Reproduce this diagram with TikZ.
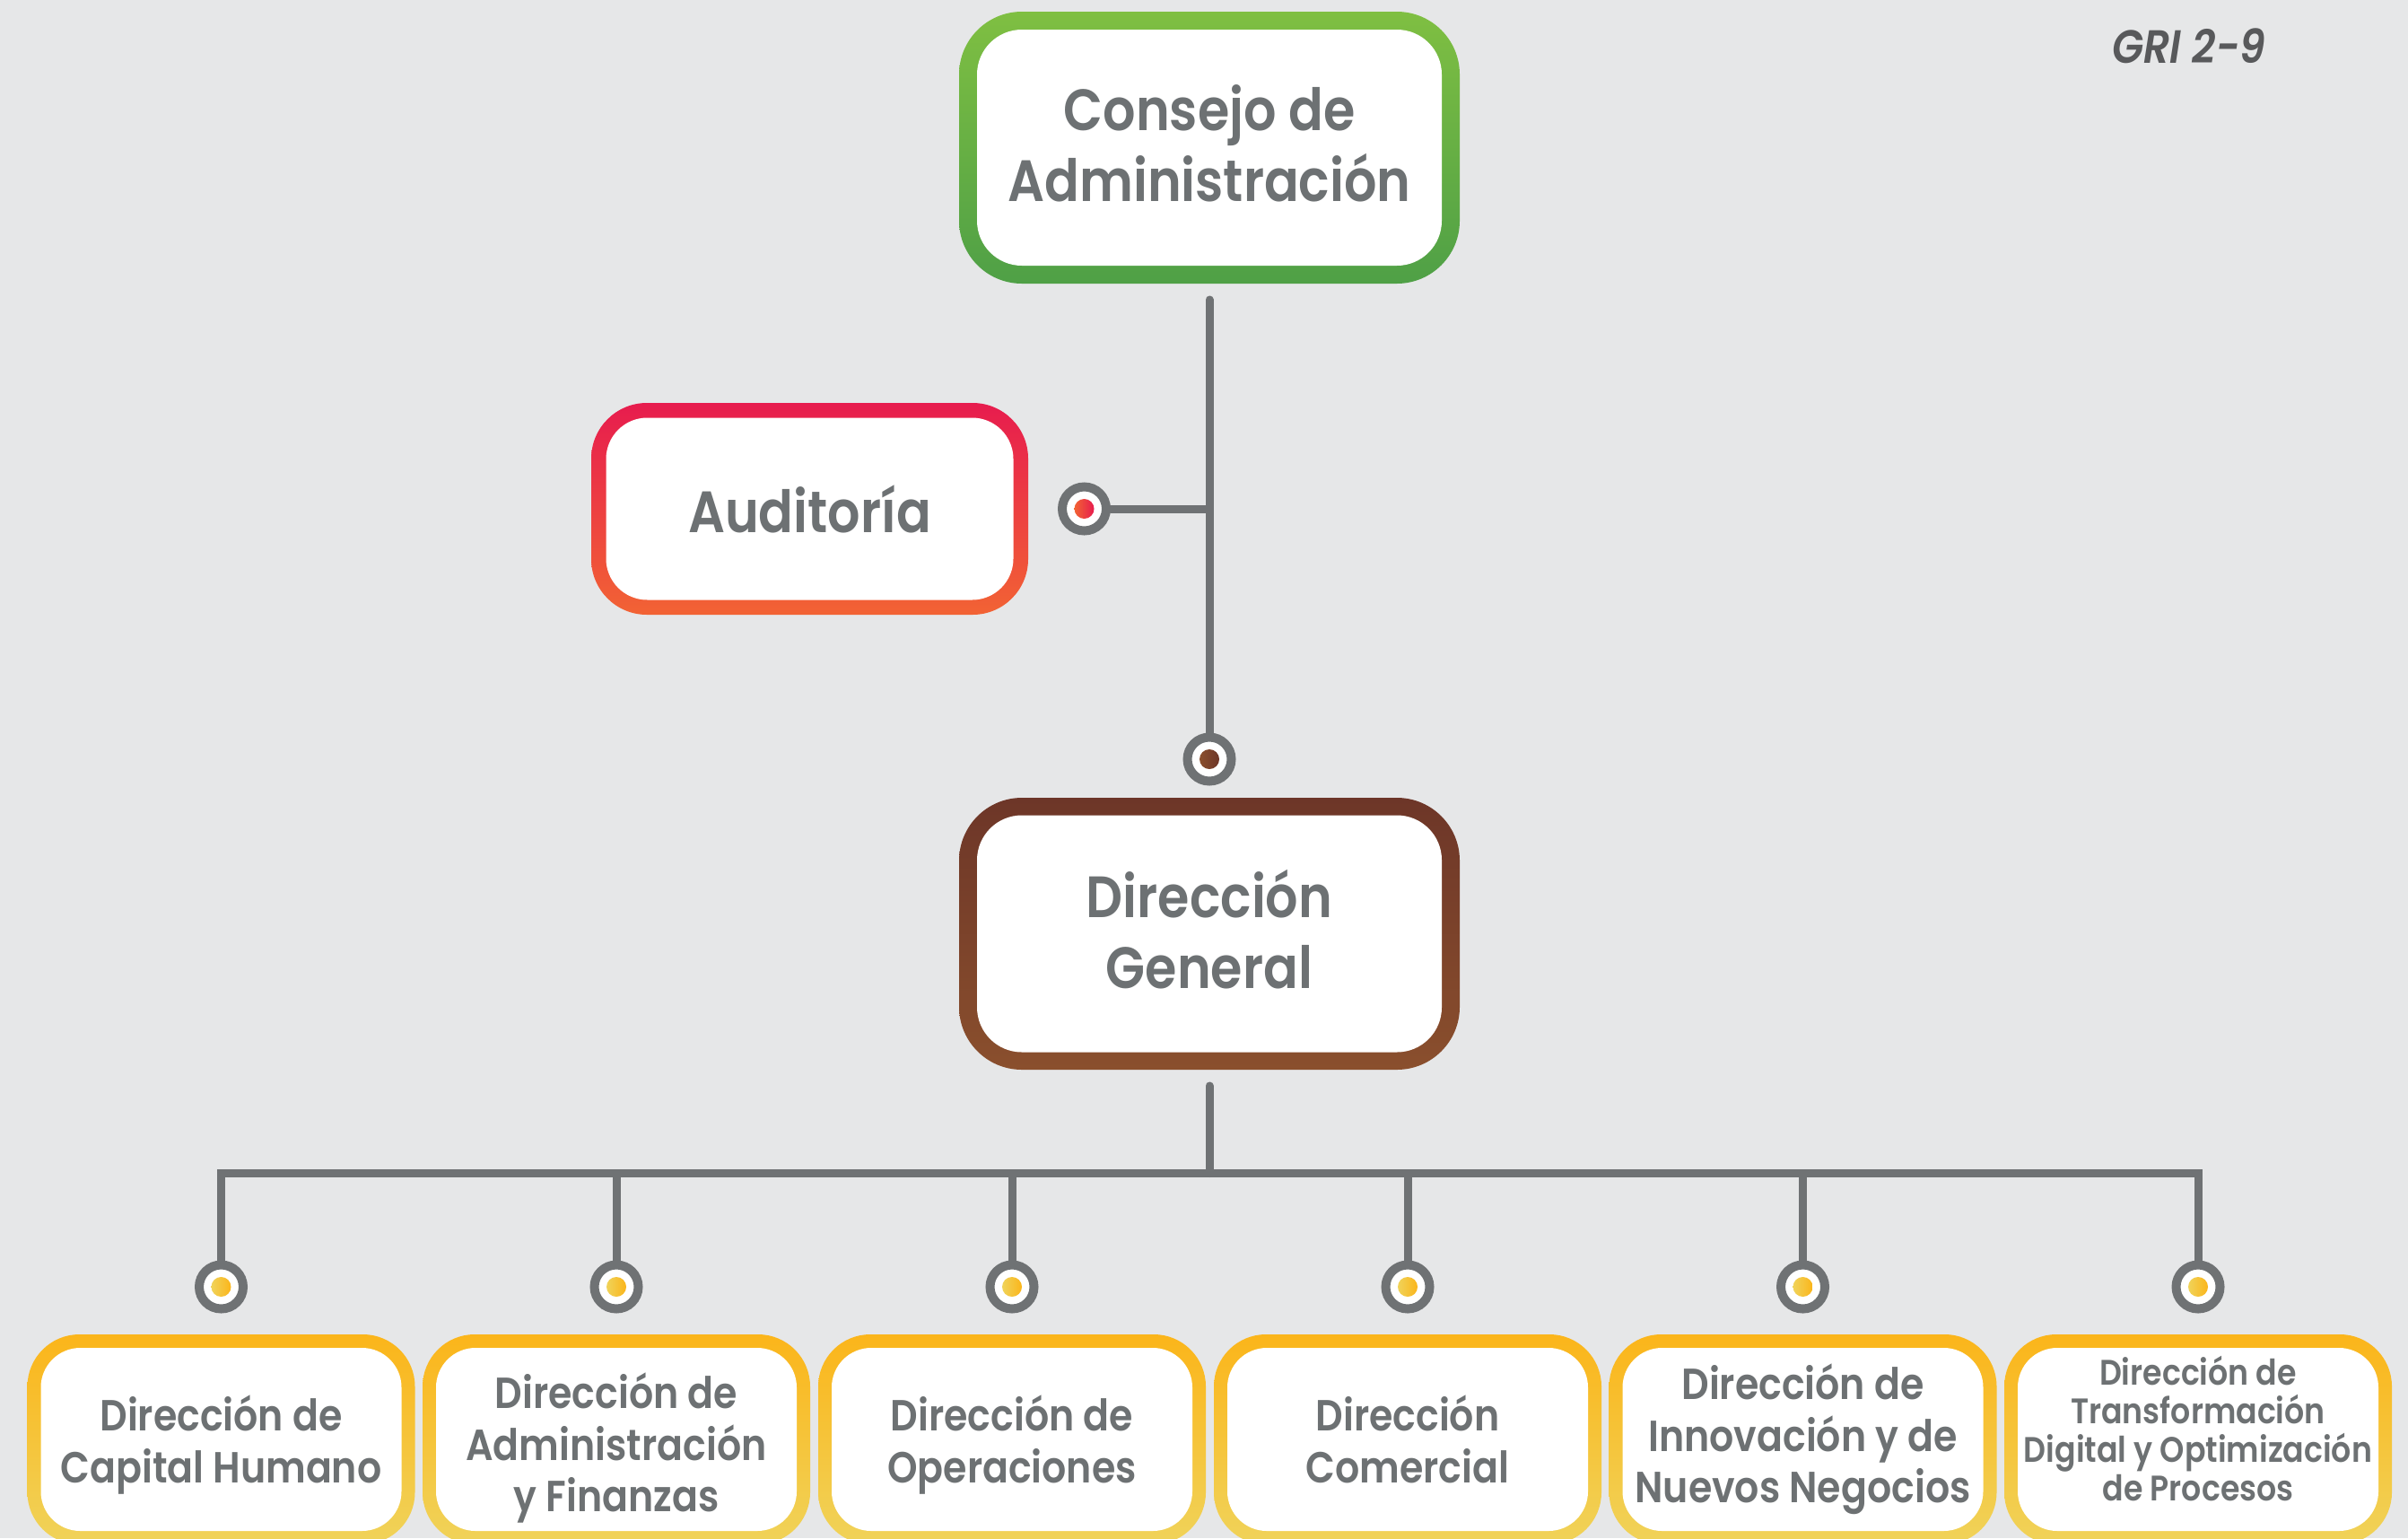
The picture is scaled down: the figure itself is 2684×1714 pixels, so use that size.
\documentclass[tikz,border=0pt]{standalone}
\usepackage{fontspec}
\setmainfont{Poppins}[FakeStretch=0.88, BoldFont={Poppins SemiBold}, BoldItalicFont={Poppins SemiBold Italic}]
\usepackage{tikz}

\definecolor{bggray}{HTML}{E6E7E8}
\definecolor{txtgray}{HTML}{6D7173}
\definecolor{linegray}{HTML}{6F7274}
\definecolor{grigray}{HTML}{58595B}
\definecolor{greentop}{HTML}{7FBF42}
\definecolor{greenbot}{HTML}{4FA046}
\definecolor{redtop}{HTML}{E71C4E}
\definecolor{redbot}{HTML}{F26334}
\definecolor{browntop}{HTML}{6D3628}
\definecolor{brownbot}{HTML}{8A4F2D}
\definecolor{yellowtop}{HTML}{FBB51A}
\definecolor{yellowbot}{HTML}{F0D35A}

\tikzset{
  frame/.style 2 args={top color=#1, bottom color=#2, draw=none, inner sep=0pt, outer sep=0pt},
  box/.style={fill=white, inner sep=0pt, outer sep=0pt, align=center, text=txtgray},
  bigtext/.style={font={\fontsize{65}{79}\selectfont\bfseries}},
  smalltext/.style={font={\fontsize{48.5}{57.5}\selectfont\bfseries}},
  tinytext/.style={font={\fontsize{39.5}{43}\selectfont\bfseries}},
  ring/.style={circle, fill=white, draw=linegray, line width=10pt, minimum size=49pt, inner sep=0pt},
  dot/.style 2 args={circle, left color=#1, right color=#2, minimum size=22pt, inner sep=0pt},
  link/.style={draw=linegray, line width=9pt, line cap=round}
}

\begin{document}
\begin{tikzpicture}[x=1pt,y=1pt,yscale=-1,xscale=1]
\useasboundingbox (0,0) rectangle (2684,1714);
\fill[bggray] (0,0) rectangle (2684,1714);

%Shape: Rounded Rectangle [Consejo]
\node[frame={greentop}{greenbot}, rounded corners=70pt, minimum width=558pt, minimum height=303pt] (consejo) at (1348,164.5) {};
\node[box, bigtext, rounded corners=50pt, minimum width=518pt, minimum height=263pt] (consejotxt) at (consejo) {Consejo de\\Administración\rule[-10pt]{0pt}{0pt}};
%Shape: Rounded Rectangle [Auditoria]
\node[frame={redtop}{redbot}, rounded corners=62pt, minimum width=487pt, minimum height=236pt] (auditoria) at (902.5,567) {};
\node[box, bigtext, rounded corners=46pt, minimum width=454pt, minimum height=203pt] (auditoriatxt) at (auditoria) {Auditoría};
%Shape: Rounded Rectangle [Direccion General]
\node[frame={browntop}{brownbot}, rounded corners=70pt, minimum width=558pt, minimum height=303pt] (general) at (1348,1040.5) {};
\node[box, bigtext, rounded corners=50pt, minimum width=518pt, minimum height=264pt] (generaltxt) at (general) {Dirección\\General\rule[-10pt]{0pt}{0pt}};

%Shape: Rounded Rectangle [Direcciones]
\node[frame={yellowtop}{yellowbot}, rounded corners=58pt, minimum width=432pt, minimum height=234pt] (capital) at (246.5,1604) {};
\node[box, smalltext, rounded corners=44pt, minimum width=402pt, minimum height=204pt] (capitaltxt) at (capital) {\rule{0pt}{52pt}Dirección de\\Capital Humano};
\node[frame={yellowtop}{yellowbot}, rounded corners=58pt, minimum width=432pt, minimum height=234pt] (finanzas) at (687,1604) {};
\node[box, smalltext, rounded corners=44pt, minimum width=402pt, minimum height=204pt] (finanzastxt) at (finanzas) {\rule{0pt}{59pt}Dirección de\\Administración\\y Finanzas};
\node[frame={yellowtop}{yellowbot}, rounded corners=58pt, minimum width=432pt, minimum height=234pt] (operaciones) at (1128,1604) {};
\node[box, smalltext, rounded corners=44pt, minimum width=402pt, minimum height=204pt] (operacionestxt) at (operaciones) {\rule{0pt}{52pt}Dirección de\\Operaciones};
\node[frame={yellowtop}{yellowbot}, rounded corners=58pt, minimum width=432pt, minimum height=234pt] (comercial) at (1569,1604) {};
\node[box, smalltext, rounded corners=44pt, minimum width=402pt, minimum height=204pt] (comercialtxt) at (comercial) {Dirección\\Comercial};
\node[frame={yellowtop}{yellowbot}, rounded corners=58pt, minimum width=432pt, minimum height=234pt] (innovacion) at (2009.5,1604) {};
\node[box, smalltext, rounded corners=44pt, minimum width=402pt, minimum height=204pt] (innovaciontxt) at (innovacion) {Dirección de\\Innovación y de\\Nuevos Negocios};
\node[frame={yellowtop}{yellowbot}, rounded corners=58pt, minimum width=432pt, minimum height=234pt] (procesos) at (2450,1604) {};
\node[box, tinytext, rounded corners=44pt, minimum width=402pt, minimum height=204pt] (procesostxt) at (procesos) {Dirección de\\Transformación\\Digital y Optimización\\de Procesos\rule[-24pt]{0pt}{0pt}};

%Shape: Circle [Rings]
\node[ring] (ringaudit) at (1208.5,567) {};
\node[dot={redbot}{redtop}] (dotaudit) at (ringaudit) {};
\node[ring] (ringgeneral) at (1348,846) {};
\node[dot={brownbot}{browntop}] (dotgeneral) at (ringgeneral) {};
\node[ring] (ringcapital) at (246.5,1434) {};
\node[dot={yellowbot}{yellowtop}] (dotcapital) at (ringcapital) {};
\node[ring] (ringfinanzas) at (687,1434) {};
\node[dot={yellowbot}{yellowtop}] (dotfinanzas) at (ringfinanzas) {};
\node[ring] (ringoperaciones) at (1128,1434) {};
\node[dot={yellowbot}{yellowtop}] (dotoperaciones) at (ringoperaciones) {};
\node[ring] (ringcomercial) at (1569,1434) {};
\node[dot={yellowbot}{yellowtop}] (dotcomercial) at (ringcomercial) {};
\node[ring] (ringinnovacion) at (2009.5,1434) {};
\node[dot={yellowbot}{yellowtop}] (dotinnovacion) at (ringinnovacion) {};
\node[ring] (ringprocesos) at (2450,1434) {};
\node[dot={yellowbot}{yellowtop}] (dotprocesos) at (ringprocesos) {};

\coordinate (bus) at (1348,1307.5);

%Straight Lines
\draw[link, shorten <=18pt] (consejo.south) -- (ringgeneral.north);
\draw[link] (ringaudit.east) -- (ringaudit.east -| consejo.south);
\draw[link, shorten <=18pt] (general.south) -- (bus);
\draw[link, line join=miter] (ringcapital.north) |- (bus) -| (ringprocesos.north);
\draw[link] (ringfinanzas.north) -- (ringfinanzas.north |- bus);
\draw[link] (ringoperaciones.north) -- (ringoperaciones.north |- bus);
\draw[link] (ringcomercial.north) -- (ringcomercial.north |- bus);
\draw[link] (ringinnovacion.north) -- (ringinnovacion.north |- bus);

% Text Node
\node[anchor=base, text=grigray, font={\fontsize{52}{60}\selectfont\bfseries\itshape}] (gri) at (2440,70) {GRI 2-9};

\end{tikzpicture}
\end{document}
